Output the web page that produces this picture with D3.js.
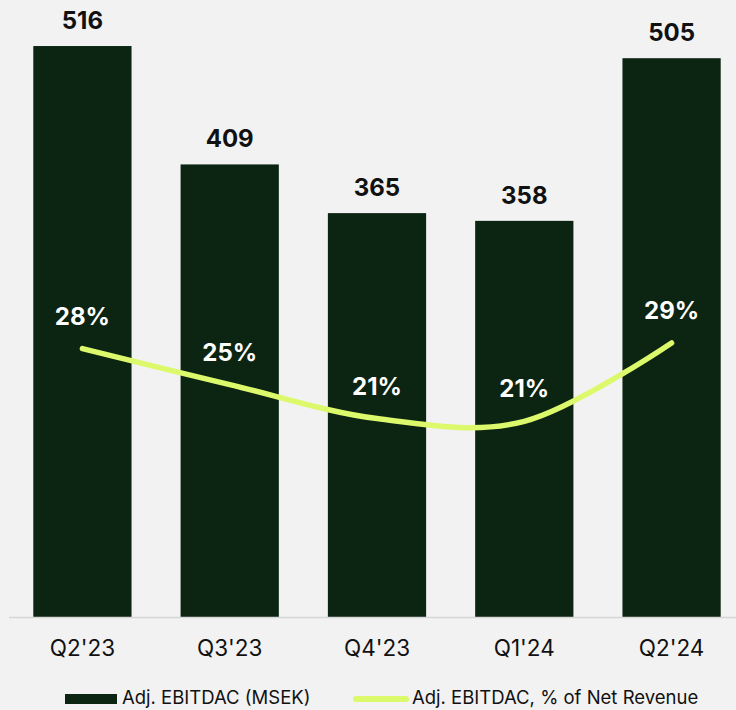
<!DOCTYPE html>
<html lang="en">
  <head>
    <meta charset="UTF-8" />
    <title>Adj. EBITDAC</title>
    <script src="https://d3js.org/d3.v7.min.js"></script>
    <style>
      body {
        margin: 0;
        background-color: #f2f2f2;
        font-family: Inter, "Noto Sans", sans-serif;
      }
      svg {
        display: block;
      }
    </style>
  </head>
  <body>
    <div id="chart"></div>
    <script>
      // Data
      const quarters = ["Q2'23", "Q3'23", "Q4'23", "Q1'24", "Q2'24"];
      const ebitdac = [516, 409, 365, 358, 505]; // MSEK
      const marginPct = [28.4, 24.6, 21.0, 20.7, 29.0]; // % of net revenue

      const width = 736,
        height = 710,
        baseline = 617;

      const barColor = "#0c2412",
        lineColor = "#dcf86b";

      const svg = d3
        .select("#chart")
        .append("svg")
        .attr("width", width)
        .attr("height", height);

      svg
        .append("rect")
        .attr("width", width)
        .attr("height", height)
        .attr("fill", "#f2f2f2");

      // Scales
      const x = d3
        .scaleBand()
        .domain(quarters)
        .range([9, 745])
        .paddingInner(0.333)
        .paddingOuter(0.165);

      const y = d3.scaleLinear().domain([0, 557.6]).range([baseline, 0]);
      const y2 = d3.scaleLinear().domain([0, 65.3]).range([baseline, 0]);

      // Bars
      svg
        .selectAll(".bar")
        .data(quarters)
        .join("rect")
        .attr("class", "bar")
        .attr("x", (d) => x(d))
        .attr("y", (d, i) => y(ebitdac[i]))
        .attr("width", x.bandwidth())
        .attr("height", (d, i) => baseline - y(ebitdac[i]))
        .attr("fill", barColor);

      // Baseline
      svg
        .append("line")
        .attr("x1", 9)
        .attr("x2", width)
        .attr("y1", baseline + 0.5)
        .attr("y2", baseline + 0.5)
        .attr("stroke", "#d6d6d6")
        .attr("stroke-width", 1.5);

      // Bar value labels
      svg
        .selectAll(".bar-label")
        .data(quarters)
        .join("text")
        .attr("class", "bar-label")
        .attr("x", (d) => x(d) + x.bandwidth() / 2)
        .attr("y", (d, i) => y(ebitdac[i]) - 17)
        .attr("text-anchor", "middle")
        .attr("font-size", 24)
        .attr("font-weight", 700)
        .attr("fill", "#111")
        .text((d, i) => ebitdac[i]);

      // X axis labels
      svg
        .selectAll(".cat-label")
        .data(quarters)
        .join("text")
        .attr("class", "cat-label")
        .attr("x", (d) => x(d) + x.bandwidth() / 2)
        .attr("y", 656)
        .attr("text-anchor", "middle")
        .attr("font-size", 22.5)
        .attr("fill", "#111")
        .text((d) => d);

      // Margin line (smoothed)
      const line = d3
        .line()
        .x((d, i) => x(quarters[i]) + x.bandwidth() / 2)
        .y((d) => y2(d))
        .curve(d3.curveCardinal.tension(0));

      svg
        .append("path")
        .datum(marginPct)
        .attr("d", line)
        .attr("fill", "none")
        .attr("stroke", lineColor)
        .attr("stroke-width", 5.5)
        .attr("stroke-linecap", "round");

      // Margin labels
      svg
        .selectAll(".pct-label")
        .data(marginPct)
        .join("text")
        .attr("class", "pct-label")
        .attr("x", (d, i) => x(quarters[i]) + x.bandwidth() / 2)
        .attr("y", (d) => y2(d) - 24)
        .attr("text-anchor", "middle")
        .attr("font-size", 24)
        .attr("font-weight", 700)
        .attr("fill", "#fff")
        .text((d) => d3.format(".0f")(d) + "%");

      // Legend
      const legend = svg
        .append("g")
        .attr("font-size", 18.5)
        .attr("fill", "#111");

      legend
        .append("rect")
        .attr("x", 65)
        .attr("y", 694)
        .attr("width", 52)
        .attr("height", 10)
        .attr("fill", barColor);

      legend
        .append("text")
        .attr("x", 122)
        .attr("y", 704)
        .text("Adj. EBITDAC (MSEK)");

      legend
        .append("line")
        .attr("x1", 356)
        .attr("x2", 406)
        .attr("y1", 699)
        .attr("y2", 699)
        .attr("stroke", lineColor)
        .attr("stroke-width", 6)
        .attr("stroke-linecap", "round");

      legend
        .append("text")
        .attr("x", 412)
        .attr("y", 704)
        .text("Adj. EBITDAC, % of Net Revenue");
    </script>
  </body>
</html>
